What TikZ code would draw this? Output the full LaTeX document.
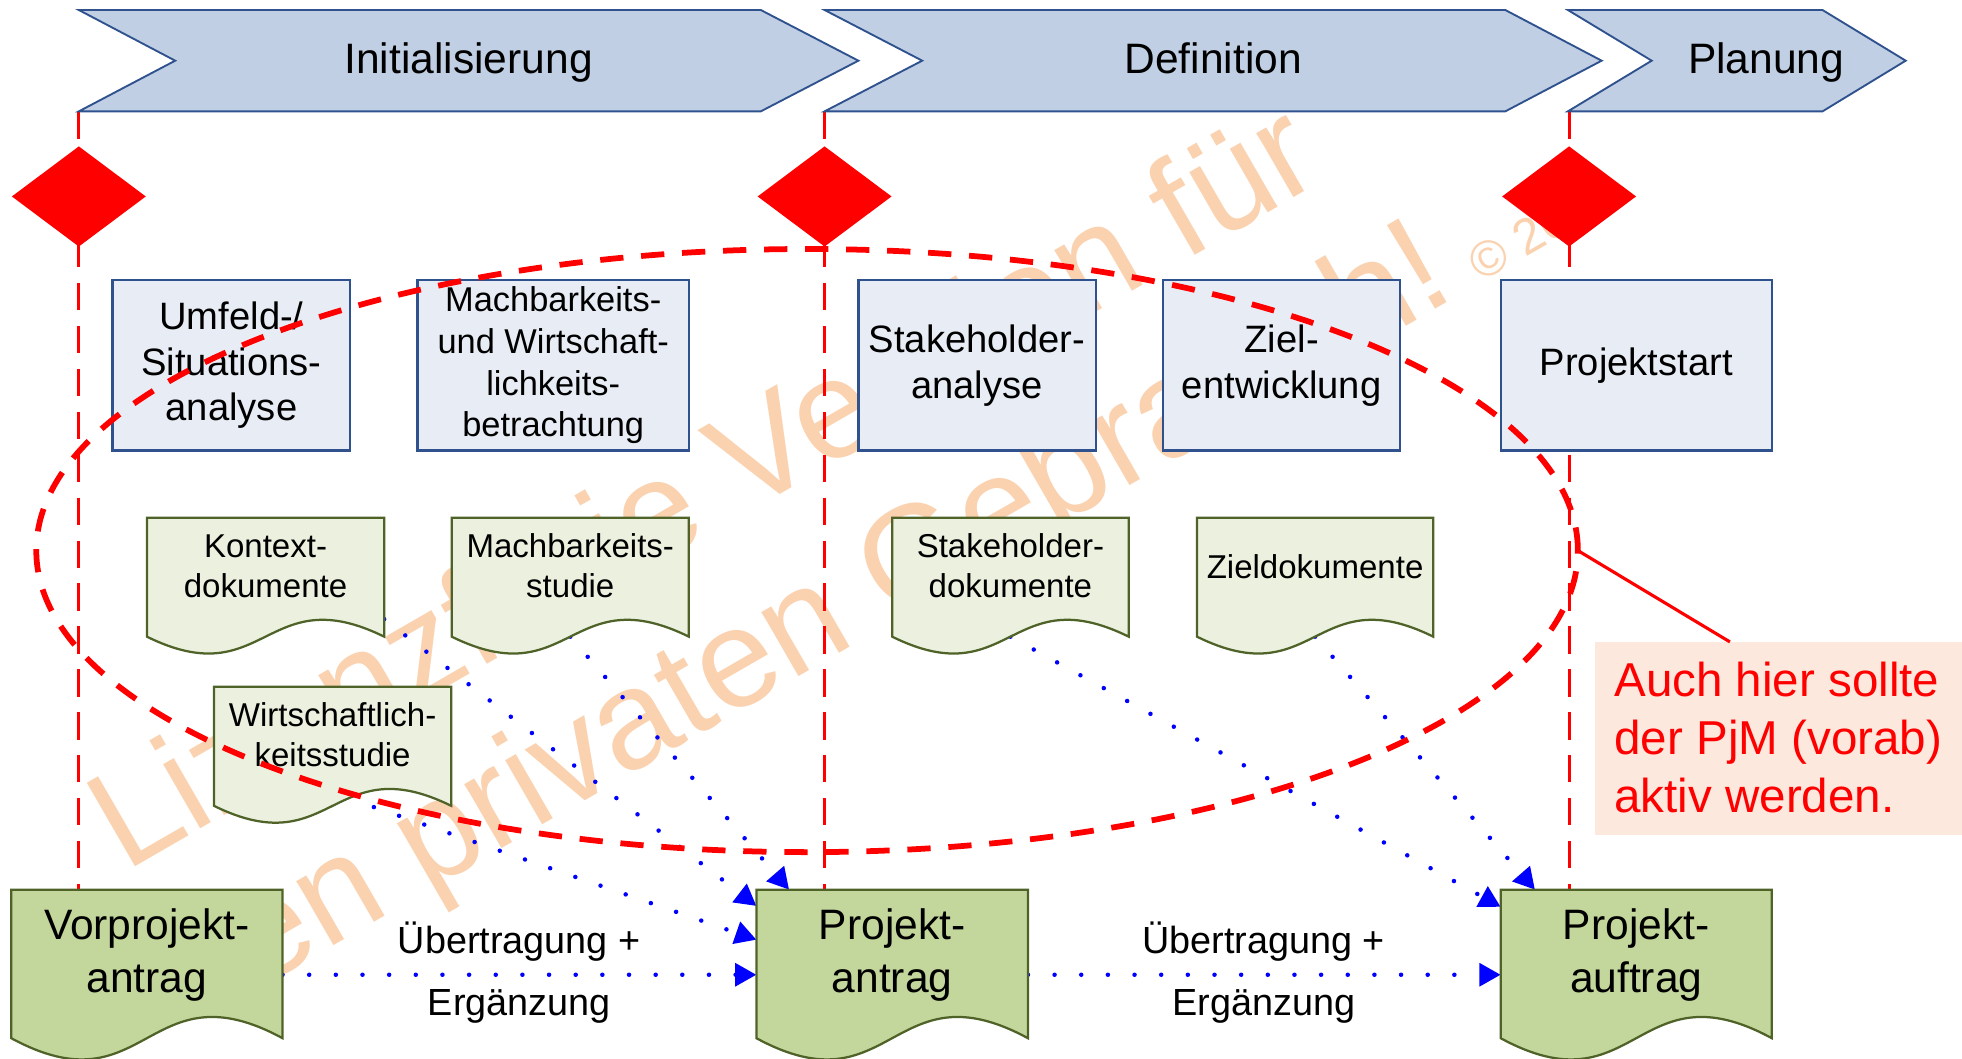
\documentclass[tikz,border=0pt]{standalone}
\usepackage{fontspec}
\setmainfont{Liberation Sans}
\usetikzlibrary{arrows.meta,calc,shapes.geometric}
\definecolor{chevfill}{RGB}{192,207,227}
\definecolor{chevline}{RGB}{47,82,143}
\definecolor{boxfill}{RGB}{232,237,245}
\definecolor{boxline}{RGB}{47,82,143}
\definecolor{docfillL}{RGB}{235,241,222}
\definecolor{docfillD}{RGB}{195,214,155}
\definecolor{docline}{RGB}{79,98,40}
\definecolor{wmcol}{RGB}{250,210,176}
\definecolor{notefill}{RGB}{252,232,220}
\pgfdeclarelayer{wmlayer}
\pgfdeclarelayer{bglayer}
\pgfdeclarelayer{fglayer}
\pgfsetlayers{wmlayer,bglayer,main,fglayer}
\newcommand{\docshape}[3]{\path[#2] (#1.north west) -- (#1.north east) -- (#1.south east) .. controls ($(#1.south)+(0,-#3)$) and ($(#1.south)+(0,#3)$) .. (#1.south west) -- cycle;}
\tikzset{
  chev/.style={fill=chevfill, draw=chevline, line width=1.5pt, line join=miter},
  chevtext/.style={font=\fontsize{34}{41}\selectfont, anchor=base, inner sep=0},
  milestone/.style={diamond, fill=red, draw=none, minimum width=107pt, minimum height=80pt, inner sep=0, outer sep=0},
  vline/.style={draw=red, line width=2.5pt, dash pattern=on 21.8pt off 12.5pt},
  task/.style={rectangle, fill=boxfill, draw=boxline, line width=1.8pt, minimum height=136pt, align=center, inner sep=0, outer sep=0, font=\fontsize{30.5}{36.5}\selectfont},
  docgeom/.style={rectangle, draw=none, inner sep=0, outer sep=0},
  docL/.style={fill=docfillL, draw=docline, line width=1.8pt},
  docD/.style={fill=docfillD, draw=docline, line width=1.8pt},
  doctextL/.style={align=center, inner sep=0, font=\fontsize{26.4}{31.7}\selectfont},
  doctextD/.style={align=center, inner sep=0, font=\fontsize{34}{42}\selectfont},
  flow/.style={draw=blue, line width=3.6pt, line cap=round, dash pattern=on 0pt off 21.3pt, -{Triangle[length=17pt,width=18pt]}},
  flowlabel/.style={anchor=base, inner sep=0, font=\fontsize{30.2}{36}\selectfont},
  focus/.style={ellipse, draw=red, line width=4.6pt, dash pattern=on 18.6pt off 14.2pt, minimum width=1232pt, minimum height=482pt, inner sep=0, outer sep=0},
  note/.style={rectangle, fill=notefill, draw=none, minimum width=305pt, minimum height=154pt, inner sep=0, outer sep=0},
  notetext/.style={align=left, anchor=west, inner sep=0, text=red, font=\fontsize{38}{46.1}\selectfont},
  pointer/.style={draw=red, line width=2.5pt},
  wmark/.style={text=wmcol, rotate=30, anchor=base west, inner sep=0, font=\fontsize{112}{134}\selectfont},
}
\begin{document}
\begin{tikzpicture}[x=1pt,y=-1pt]
\useasboundingbox (0,0) rectangle (1568,846);

% watermark
\begin{pgfonlayer}{wmlayer}
\node[wmark] (wm1) at (100,697.5) {Lizenzfreie Version für};
\node[wmark] (wm2) at (152,822) {den privaten Gebrauch!\hspace{21pt}{\fontsize{40}{48}\selectfont © 20}};
\end{pgfonlayer}

% phase chevrons
\path[chev] (63,8) -- (608,8) -- (686,48.5) -- (608,89) -- (63,89) -- (140,48.5) -- cycle;
\node[chevtext] (ini) at (374.5,59) {Initialisierung};
\path[chev] (659,8) -- (1203,8) -- (1280,48.5) -- (1203,89) -- (659,89) -- (737,48.5) -- cycle;
\node[chevtext] (def) at (969.5,59) {Definition};
\path[chev] (1253,8) -- (1456.5,8) -- (1523,48.5) -- (1456.5,89) -- (1253,89) -- (1320,48.5) -- cycle;
\node[chevtext] (pla) at (1411.5,59) {Planung};
\coordinate (c1) at (63,89);
\coordinate (c2) at (659,89);
\coordinate (c3) at (1254,89);

% milestones
\node[milestone] (m1) at (63,157) {};
\node[milestone] (m2) at (659,157) {};
\node[milestone] (m3) at (1254,157) {};

% tasks
\node[task, minimum width=190pt] (umf) at (185,292) {Umfeld-/\\Situations-\\analyse};
\node[task, minimum width=216.8pt, font=\fontsize{27.5}{33.3}\selectfont] (mwb) at (442.1,292) {Machbarkeits-\\und Wirtschaft-\\lichkeits-\\betrachtung};
\node[task, minimum width=189.6pt] (sha) at (780.8,292) {Stakeholder-\\analyse};
\node[task, minimum width=189.4pt] (zie) at (1024.3,292) {Ziel-\\entwicklung};
\node[task, minimum width=216.7pt] (pst) at (1307.65,292) {Projektstart};

% light documents
\node[docgeom, minimum width=189.6pt, minimum height=95.1pt] (kd) at (212.2,461.25) {};
\docshape{kd}{docL}{46.7}
\node[doctextL] (kdt) at (212.2,452.4) {Kontext-\\dokumente};
\node[docgeom, minimum width=189.5pt, minimum height=95.1pt] (msd) at (455.75,461.25) {};
\docshape{msd}{docL}{46.7}
\node[doctextL] (msdt) at (455.75,452) {Machbarkeits-\\studie};
\node[docgeom, minimum width=189pt, minimum height=95.1pt] (sdd) at (807.5,461.25) {};
\docshape{sdd}{docL}{46.7}
\node[doctextL] (sddt) at (807.5,452) {Stakeholder-\\dokumente};
\node[docgeom, minimum width=188.8pt, minimum height=95.1pt] (zdd) at (1051,461.25) {};
\docshape{zdd}{docL}{46.7}
\node[doctextL, anchor=base] (zddt) at (1051,462.2) {Zieldokumente};
\node[docgeom, minimum width=189.6pt, minimum height=95.2pt] (wsd) at (265.8,596.4) {};
\docshape{wsd}{docL}{46.7}
\node[doctextL] (wsdt) at (265.8,587.4) {Wirtschaftlich-\\keitsstudie};

% dark documents
\node[docgeom, minimum width=216.8pt, minimum height=118.7pt] (vp) at (117.4,770.35) {};
\docshape{vp}{docD}{58.8}
\node[doctextD] (vpt) at (117.4,763.3) {Vorprojekt-\\antrag};
\node[docgeom, minimum width=217pt, minimum height=118.7pt] (pa) at (713,770.35) {};
\docshape{pa}{docD}{58.8}
\node[doctextD] (pat) at (713,763.3) {Projekt-\\antrag};
\node[docgeom, minimum width=216.7pt, minimum height=118.7pt] (pauf) at (1307.65,770.35) {};
\docshape{pauf}{docD}{58.8}
\node[doctextD] (paut) at (1307.65,763.3) {Projekt-\\auftrag};

% labels
\node[flowlabel] (l1a) at (415,762.2) {Übertragung +};
\node[flowlabel] (l1b) at (415,811.6) {Ergänzung};
\node[flowlabel] (l2a) at (1010,762.2) {Übertragung +};
\node[flowlabel] (l2b) at (1010,811.6) {Ergänzung};

% milestone lines and flows
\begin{pgfonlayer}{bglayer}
\draw[vline] (c1) -- (vp.north -| c1);
\draw[vline] (c2) -- (pa.north -| c2);
\draw[vline] (c3) -- (pauf.north -| c3);
\draw[flow] ($(kd.south east)+(0,-14)$) -- ($(pa.north west)+(0,13)$);
\draw[flow] (msd.south) -- ($(pa.north west)+(26.1,0)$);
\draw[flow] ($(wsd.south)+(33,1)$) -- ($(pa.north west)+(0,40)$);
\draw[flow] (sdd.south) -- ($(pauf.north west)+(0,13.7)$);
\draw[flow] (zdd.south) -- ($(pauf.north west)+(27.4,0)$);
\draw[flow] ($(vp.north east)+(0,68)$) -- ($(pa.north west)+(0,68)$);
\draw[flow] ($(pa.north east)+(0,68)$) -- ($(pauf.north west)+(0,68)$);
\end{pgfonlayer}

% focus ellipse and note
\begin{pgfonlayer}{fglayer}
\node[focus] (ell) at (645,440) {};
\node[note] (cb) at (1427.5,590) {};
\node[notetext] (cbt) at (1290,589.5) {Auch hier sollte\\der PjM (vorab)\\aktiv werden.};
\draw[pointer] ($(cb.north west)+(107.5,0)$) -- (ell.east);
\end{pgfonlayer}
\end{tikzpicture}
\end{document}
